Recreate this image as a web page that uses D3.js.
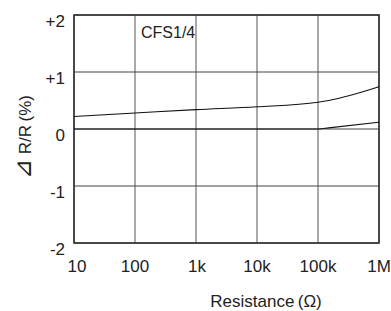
<!DOCTYPE html>
<html>
<head>
<meta charset="utf-8">
<script src="https://cdn.jsdelivr.net/npm/d3@7"></script>
<style>
body { margin: 0; background: #fff; }
text { font-family: "Liberation Sans", Arial, sans-serif; fill: #222; }
</style>
</head>
<body>
<div class="chart"></div>
<script>
// resistance ticks and labels
const xTicks = [10, 100, 1e3, 1e4, 1e5, 1e6]
const xLabels = ["10", "100", "1k", "10k", "100k", "1M"]
const yTicks = [-2, -1, 0, 1, 2]
const yLabels = ["-2", "-1", "0", "+1", "+2"]

// upper curve
const upperR = [10, 100, 1e3, 1e4, 1e5, 1.5e5, 1e6]
const upperV = [0.22, 0.28, 0.34, 0.39, 0.47, 0.50, 0.74]
// lower curve
const lowerR = [10, 1e3, 1e5, 1.5e5, 1e6]
const lowerV = [0, 0, 0, 0.02, 0.12]

const width = 391
const height = 311
const margin = {left: 74, right: 12, top: 15, bottom: 68}

const svg = d3.select(".chart").append("svg")
    .attr("width", width)
    .attr("height", height)

const x = d3.scaleLog()
    .domain([10, 1e6])
    .range([margin.left, width - margin.right])
const y = d3.scaleLinear()
    .domain([-2, 2])
    .range([height - margin.bottom, margin.top])

// grid
svg.append("g").selectAll("line")
    .data(xTicks)
    .join("line")
    .attr("x1", d => x(d)).attr("x2", d => x(d))
    .attr("y1", y(-2)).attr("y2", y(2))
    .attr("stroke", "#555")
    .attr("stroke-width", 1)
svg.append("g").selectAll("line")
    .data(yTicks)
    .join("line")
    .attr("x1", x(10)).attr("x2", x(1e6))
    .attr("y1", d => y(d)).attr("y2", d => y(d))
    .attr("stroke", "#444")
    .attr("stroke-width", 1)

svg.append("rect")
    .attr("x", x(10)).attr("y", y(2))
    .attr("width", x(1e6) - x(10))
    .attr("height", y(-2) - y(2))
    .attr("fill", "none")
    .attr("stroke", "#333")
    .attr("stroke-width", 1.6)

// tick labels
svg.append("g").selectAll("text")
    .data(xTicks)
    .join("text")
    .attr("x", (d, i) => x(d) + (i === 0 ? 3 : i === 2 ? 1 : 0))
    .attr("y", 272)
    .attr("text-anchor", "middle")
    .attr("font-size", 17)
    .text((d, i) => xLabels[i])
svg.append("g").selectAll("text")
    .data(yTicks)
    .join("text")
    .attr("x", 65)
    .attr("y", d => y(d) + 12)
    .attr("text-anchor", "end")
    .attr("font-size", 17)
    .text((d, i) => yLabels[i])

// curves
const line = d3.line()
    .x(d => x(d[0]))
    .y(d => y(d[1]))
    .curve(d3.curveMonotoneX)
svg.append("path")
    .datum(d3.zip(upperR, upperV))
    .attr("d", line)
    .attr("fill", "none")
    .attr("stroke", "#111")
    .attr("stroke-width", 1.1)
svg.append("path")
    .datum(d3.zip(lowerR, lowerV))
    .attr("d", line)
    .attr("fill", "none")
    .attr("stroke", "#111")
    .attr("stroke-width", 1.1)

// labels
svg.append("text")
    .attr("x", 141).attr("y", 38)
    .attr("font-size", 16)
    .text("CFS1/4")

svg.append("text")
    .attr("x", 266).attr("y", 307)
    .attr("text-anchor", "middle")
    .attr("font-size", 17)
    .text("Resistance\u2009(\u03A9)")

const ylab = svg.append("text")
    .attr("transform", "translate(31,137) rotate(-90)")
    .attr("text-anchor", "middle")
    .attr("font-size", 17)
ylab.append("tspan").attr("font-size", 24).text("\u22BF")
ylab.append("tspan").text(" R/R\u2009(%)")
</script>
</body>
</html>
